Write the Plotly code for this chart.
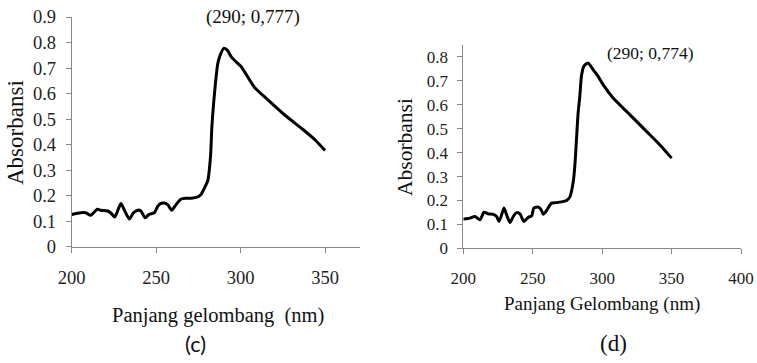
import plotly.graph_objects as go

# UV absorbance spectra, panels (c) and (d)
wavelength_c = [200, 205.3, 208.3, 211.3, 215.2, 217.2, 221.2, 223.2, 225.5, 229.1,
                231.1, 234.1, 236.6, 239, 241, 243.4, 245.9, 248.9, 250.9, 252.5,
                254.9, 256.8, 259.2, 261.8, 264.8, 267.7, 270.7, 274.7, 276.6, 278.6,
                280.6, 282.2, 283, 284, 285.1, 286.5, 287.9, 290, 292.1, 294.5,
                297.4, 300.4, 308.3, 316.2, 326.1, 336, 344, 350]
absorbance_c = [0.126, 0.133, 0.133, 0.123, 0.147, 0.143, 0.140, 0.132, 0.116, 0.169,
                0.145, 0.109, 0.133, 0.143, 0.140, 0.113, 0.127, 0.133, 0.158, 0.169,
                0.171, 0.165, 0.143, 0.165, 0.187, 0.190, 0.190, 0.195, 0.205, 0.230,
                0.260, 0.354, 0.470, 0.560, 0.640, 0.718, 0.750, 0.777, 0.770, 0.744,
                0.724, 0.705, 0.624, 0.575, 0.516, 0.464, 0.419, 0.377]

wavelength_d = [200, 204.8, 208.4, 212, 214.9, 218, 221.6, 224, 225.7, 227.6,
                229.3, 231.2, 233.6, 236, 238.4, 240.8, 243.6, 246.8, 249.2, 250.8,
                254, 255.9, 257.6, 260, 263.5, 267.1, 270.7, 274.3, 276.7, 279.1,
                280.3, 281.5, 282.7, 283.9, 285.1, 286.8, 288.7, 290, 293.5, 297.1,
                300.7, 307.9, 319.9, 331.9, 341.5, 350]
absorbance_d = [0.122, 0.126, 0.133, 0.119, 0.151, 0.144, 0.142, 0.133, 0.112, 0.140,
                0.168, 0.140, 0.108, 0.133, 0.149, 0.144, 0.112, 0.130, 0.135, 0.168,
                0.172, 0.163, 0.142, 0.158, 0.189, 0.191, 0.194, 0.200, 0.214, 0.275,
                0.342, 0.454, 0.566, 0.635, 0.720, 0.761, 0.772, 0.774, 0.747, 0.719,
                0.684, 0.628, 0.559, 0.489, 0.433, 0.377]

ticks_x_c = [200, 250, 300, 350]
ticks_x_d = [200, 250, 300, 350, 400]
ticks_y_c = [0, 0.1, 0.2, 0.3, 0.4, 0.5, 0.6, 0.7, 0.8, 0.9]
ticks_y_d = [0, 0.1, 0.2, 0.3, 0.4, 0.5, 0.6, 0.7, 0.8]

W, H = 757, 363
SERIF = "Liberation Serif"
AXIS_GREY = "#868686"


def px(x):
    return x / W


def py(y):
    return 1 - y / H


fig = go.Figure()
fig.add_trace(go.Scatter(x=wavelength_c, y=absorbance_c, mode="lines",
                         line=dict(color="black", width=3, shape="spline", smoothing=0.6),
                         xaxis="x", yaxis="y", showlegend=False, hoverinfo="skip"))
fig.add_trace(go.Scatter(x=wavelength_d, y=absorbance_d, mode="lines",
                         line=dict(color="black", width=3, shape="spline", smoothing=0.6),
                         xaxis="x2", yaxis="y2", showlegend=False, hoverinfo="skip"))


def axis_style(size):
    return dict(showline=True, linecolor=AXIS_GREY, linewidth=1,
                ticks="outside", tickcolor=AXIS_GREY, ticklen=5, tickwidth=1,
                showgrid=False, zeroline=False, automargin=False,
                tickfont=dict(family=SERIF, size=size, color="#222"))


fig.update_layout(
    width=W, height=H,
    margin=dict(l=0, r=0, t=0, b=0, pad=0, autoexpand=False),
    font=dict(family=SERIF, size=18, color="#222"),
    paper_bgcolor="white", plot_bgcolor="white",
    xaxis=dict(domain=[px(71.7), px(360)], range=[200, 370.7], tickvals=ticks_x_c,
               anchor="y", ticklabelstandoff=9, **axis_style(18.5)),
    yaxis=dict(domain=[py(246.7), py(17)], range=[0, 0.9], tickvals=ticks_y_c,
               ticktext=[f"{v:g}" for v in ticks_y_c], anchor="x",
               ticklabelstandoff=6, **axis_style(18.5)),
    xaxis2=dict(domain=[px(463.3), px(741)], range=[200, 400], tickvals=ticks_x_d,
                anchor="y2", ticklabelstandoff=9, **axis_style(17)),
    yaxis2=dict(domain=[py(248.3), py(45)], range=[0, 0.85], tickvals=ticks_y_d,
                ticktext=[f"{v:g}" for v in ticks_y_d], anchor="x2",
                ticklabelstandoff=6, **axis_style(17)),
)

texts = [
    # (text, x px, y px, size, family, angle)
    ("(290; 0,777)", 253, 17, 19, SERIF, 0),
    ("Panjang gelombang  (nm)", 218, 315, 20.5, SERIF, 0),
    ("Absorbansi", 15, 133, 23, SERIF, -90),
    ("(c)", 195, 343, 22, "Lato", 0),
    ("(290; 0,774)", 650, 53, 17.5, SERIF, 0),
    ("Panjang Gelombang (nm)", 602, 304, 19, SERIF, 0),
    ("Absorbansi", 405, 147, 21.5, SERIF, -90),
    ("(d)", 613, 343, 23, SERIF, 0),
]
for text, x, y, size, family, angle in texts:
    fig.add_annotation(text=text, x=px(x), y=py(y), xref="paper", yref="paper",
                       xanchor="center", yanchor="middle", showarrow=False,
                       textangle=angle, font=dict(family=family, size=size, color="#111"))

fig.write_html("out.html")
